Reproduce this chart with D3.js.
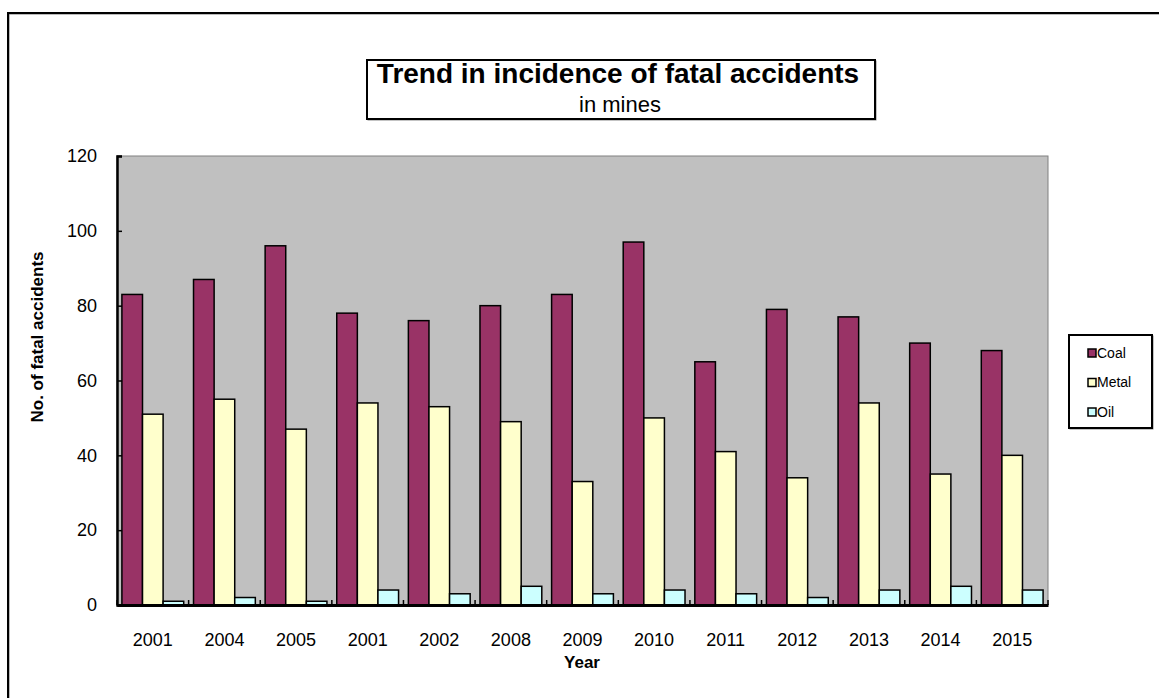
<!DOCTYPE html>
<html>
<head>
<meta charset="utf-8">
<script src="https://cdnjs.cloudflare.com/ajax/libs/d3/7.8.5/d3.min.js"></script>
<style>
	html, body { margin: 0; padding: 0; background: white; }
	svg { display: block; }
</style>
</head>
<body>
<div id="viz"></div>
<script>

// Chart data
var years = ["2001", "2004", "2005", "2001", "2002", "2008", "2009", "2010", "2011", "2012", "2013", "2014", "2015"];
var coal = [83, 87, 96, 78, 76, 80, 83, 97, 65, 79, 77, 70, 68];
var metal = [51, 55, 47, 54, 53, 49, 33, 50, 41, 34, 54, 35, 40];
var oil = [1, 2, 1, 4, 3, 5, 3, 4, 3, 2, 4, 5, 4];
var seriesNames = ["Coal", "Metal", "Oil"];
var seriesColors = ["#993366", "#FFFFCC", "#CCFFFF"];
var yTicks = [0, 20, 40, 60, 80, 100, 120];

var seriesValues = [coal, metal, oil];

// SVG properties
var width = 1159,
	height = 698,
	font = "Arial, 'Liberation Sans', sans-serif";

// Plot area
var plotLeft = 117,
	plotRight = 1048,
	plotTop = 156,
	plotBottom = 605;

var x0 = d3.scaleBand()
	.domain(d3.range(years.length))
	.range([plotLeft, plotRight])
	.padding(0);

var gap = x0.bandwidth() * 0.137;
var x1 = d3.scaleBand()
	.domain(seriesNames)
	.range([gap / 2, x0.bandwidth() - gap / 2])
	.padding(0);

var y = d3.scaleLinear()
	.domain([0, 120])
	.range([plotBottom, plotTop]);

var svg = d3.select("#viz")
	.append("svg")
	.attr("width", width)
	.attr("height", height)
	.style("font-family", font);

// Chart area border (with a thin shadow line)
svg.append("rect")
	.attr("x", 9)
	.attr("y", 14)
	.attr("width", width + 10)
	.attr("height", height + 10)
	.style("fill", "none")
	.style("stroke", "#777")
	.style("stroke-width", 1);
svg.append("rect")
	.attr("x", 8)
	.attr("y", 13)
	.attr("width", width + 10)
	.attr("height", height + 10)
	.style("fill", "none")
	.style("stroke", "black")
	.style("stroke-width", 2);

// Plot area background
svg.append("rect")
	.attr("x", plotLeft)
	.attr("y", plotTop)
	.attr("width", plotRight - plotLeft)
	.attr("height", plotBottom - plotTop)
	.style("fill", "#C0C0C0")
	.style("stroke", "#808080")
	.style("stroke-width", 1);

// Bars
var rows = years.map((yr, i) => ({i: i, year: yr, values: seriesNames.map((s, k) => ({series: s, k: k, value: seriesValues[k][i]}))}));

var groups = svg.selectAll(".group")
	.data(rows)
	.enter()
	.append("g")
	.attr("class", "group")
	.attr("transform", d => `translate(${x0(d.i)},0)`);

groups.selectAll("rect")
	.data(d => d.values)
	.enter()
	.append("rect")
	.attr("x", d => x1(d.series))
	.attr("y", d => y(d.value))
	.attr("width", x1.bandwidth())
	.attr("height", d => y(0) - y(d.value))
	.style("fill", d => seriesColors[d.k])
	.style("stroke", "black")
	.style("stroke-width", 1.5);

// Y axis
var yAxis = svg.append("g")
	.attr("transform", `translate(${plotLeft},0)`)
	.call(d3.axisRight(y).tickValues(yTicks).tickSize(5).tickFormat(""));
yAxis.select(".domain").style("stroke", "black").style("stroke-width", 2.5);
yAxis.selectAll(".tick line").style("stroke", "black").style("stroke-width", 1.5);

svg.selectAll(".y-label")
	.data(yTicks)
	.enter()
	.append("text")
	.attr("class", "y-label")
	.attr("x", 97)
	.attr("y", d => y(d))
	.attr("dy", "0.35em")
	.attr("text-anchor", "end")
	.style("font-size", "18px")
	.text(d => d);

// X axis
var xAxis = svg.append("g")
	.attr("transform", `translate(0,${plotBottom})`)
	.call(d3.axisTop(x0).tickValues([]).tickSizeOuter(0));
xAxis.select(".domain").style("stroke", "black").style("stroke-width", 3);

svg.selectAll(".x-tick")
	.data(d3.range(years.length + 1))
	.enter()
	.append("line")
	.attr("class", "x-tick")
	.attr("x1", d => plotLeft + d * x0.step())
	.attr("x2", d => plotLeft + d * x0.step())
	.attr("y1", plotBottom)
	.attr("y2", plotBottom - 5)
	.style("stroke", "black")
	.style("stroke-width", 1.5);

svg.selectAll(".x-label")
	.data(rows)
	.enter()
	.append("text")
	.attr("class", "x-label")
	.attr("x", d => x0(d.i) + x0.bandwidth() / 2)
	.attr("y", 646)
	.attr("text-anchor", "middle")
	.style("font-size", "18px")
	.text(d => d.year);

// Axis titles
svg.append("text")
	.attr("x", 582)
	.attr("y", 668)
	.attr("text-anchor", "middle")
	.style("font-size", "17px")
	.style("font-weight", "bold")
	.text("Year");

svg.append("text")
	.attr("transform", "translate(43,337) rotate(-90)")
	.attr("text-anchor", "middle")
	.style("font-size", "17px")
	.style("font-weight", "bold")
	.text("No. of fatal accidents");

// Title box (with a thin shadow line)
svg.append("rect")
	.attr("x", 368)
	.attr("y", 61)
	.attr("width", 508)
	.attr("height", 59)
	.style("fill", "none")
	.style("stroke", "#888")
	.style("stroke-width", 1);
svg.append("rect")
	.attr("x", 367)
	.attr("y", 60)
	.attr("width", 508)
	.attr("height", 59)
	.style("fill", "white")
	.style("stroke", "black")
	.style("stroke-width", 2);

svg.append("text")
	.attr("x", 618)
	.attr("y", 83)
	.attr("text-anchor", "middle")
	.style("font-size", "28px")
	.style("font-weight", "bold")
	.text("Trend in incidence of fatal accidents");

svg.append("text")
	.attr("x", 620)
	.attr("y", 112)
	.attr("text-anchor", "middle")
	.style("font-size", "22px")
	.text("in mines");

// Legend
svg.append("rect")
	.attr("x", 1070)
	.attr("y", 336)
	.attr("width", 83)
	.attr("height", 93)
	.style("fill", "none")
	.style("stroke", "#888")
	.style("stroke-width", 1);
svg.append("rect")
	.attr("x", 1069)
	.attr("y", 335)
	.attr("width", 83)
	.attr("height", 93)
	.style("fill", "white")
	.style("stroke", "black")
	.style("stroke-width", 2);

var legend = svg.selectAll(".legend")
	.data(seriesNames)
	.enter()
	.append("g")
	.attr("class", "legend")
	.attr("transform", (d, i) => `translate(1088,${353 + i * 29.5})`);

legend.append("rect")
	.attr("x", 0)
	.attr("y", -4)
	.attr("width", 8)
	.attr("height", 8)
	.style("fill", (d, i) => seriesColors[i])
	.style("stroke", "black")
	.style("stroke-width", 1.5);

legend.append("text")
	.attr("x", 9)
	.attr("y", 0)
	.attr("dy", "0.35em")
	.style("font-size", "14px")
	.text(d => d);

</script>
</body>
</html>
